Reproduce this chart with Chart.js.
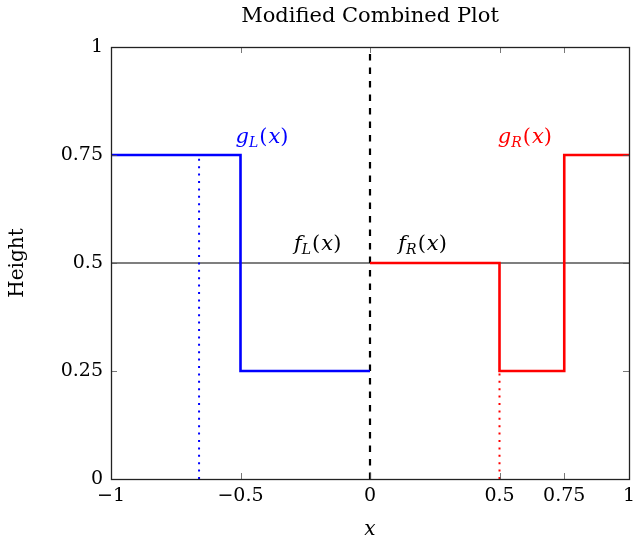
<!DOCTYPE html>
<html>
<head>
<meta charset="utf-8">
<script src="https://cdn.jsdelivr.net/npm/chart.js@4.4.1/dist/chart.umd.min.js"></script>
<style>
  html, body { margin: 0; padding: 0; background: #fff; }
</style>
</head>
<body>
<canvas id="plot" width="634" height="544"></canvas>
<script>
// ---------------- DATA ----------------
const xTicks = [-1, -0.5, 0, 0.5, 0.75, 1];
const yTicks = [0, 0.25, 0.5, 0.75, 1];

// step functions (corner points)
const gLx = [-1, -0.5, -0.5, 0];
const gLy = [0.75, 0.75, 0.25, 0.25];
const gRx = [0, 0.5, 0.5, 0.75, 0.75, 1];
const gRy = [0.5, 0.5, 0.25, 0.25, 0.75, 0.75];

// reference lines
const baseX = [-1, 1];
const baseY = [0.5, 0.5];
const splitX = [0, 0];
const splitY = [0, 1];
const dropLx = [-0.66, -0.66];
const dropLy = [0, 0.75];
const dropRx = [0.5, 0.5];
const dropRy = [0, 0.25];

// annotations: main letter, subscript, anchor in data units
const labelMain = ["g", "g", "f", "f"];
const labelSub = ["L", "R", "L", "R"];
const labelX = [-0.415, 0.6, -0.2, 0.205];
const labelY = [0.794, 0.794, 0.546, 0.546];

const FONT = "DejaVu Serif";
const labelColors = ["#0000ff", "#ff0000", "#000", "#000"];

const pts = (xs, ys) => xs.map((x, i) => ({ x: x, y: ys[i] }));
const fmt = v => String(v).replace("-", "\u2212");

function line(xs, ys, color, width, dash, order) {
  return {
    data: pts(xs, ys),
    showLine: true,
    borderColor: color,
    borderWidth: width,
    borderDash: dash,
    pointRadius: 0,
    fill: false,
    tension: 0,
    order: order
  };
}

// ---------------- PLUGINS ----------------
const frameTicks = {
  id: "frameTicks",
  afterDatasetsDraw(chart) {
    const { ctx, chartArea: a, scales } = chart;
    ctx.save();
    ctx.strokeStyle = "#555";
    ctx.lineWidth = 0.8;
    const len = 6;
    xTicks.forEach(v => {
      const px = Math.round(scales.x.getPixelForValue(v)) + 0.5;
      ctx.beginPath();
      ctx.moveTo(px, a.bottom); ctx.lineTo(px, a.bottom - len);
      ctx.moveTo(px, a.top); ctx.lineTo(px, a.top + len);
      ctx.stroke();
    });
    yTicks.forEach(v => {
      const py = Math.round(scales.y.getPixelForValue(v)) + 0.5;
      ctx.beginPath();
      ctx.moveTo(a.left, py); ctx.lineTo(a.left + len, py);
      ctx.moveTo(a.right, py); ctx.lineTo(a.right - len, py);
      ctx.stroke();
    });
    ctx.strokeStyle = "#222";
    ctx.lineWidth = 1.3;
    ctx.strokeRect(Math.round(a.left) + 0.5, Math.round(a.top) + 0.5,
      Math.round(a.right - a.left), Math.round(a.bottom - a.top));
    ctx.restore();
  }
};

const mathLabels = {
  id: "mathLabels",
  afterDraw(chart) {
    const { ctx, scales } = chart;
    ctx.save();
    ctx.textBaseline = "alphabetic";
    labelMain.forEach((m, i) => {
      const it = "italic 21px '" + FONT + "'";
      const sub = "italic 14px '" + FONT + "'";
      const up = "21px '" + FONT + "'";
      const parts = [
        [m, it, 0, 0], [labelSub[i], sub, 4, 1], ["(", up, 0, 1], ["x", it, 0, 0], [")", up, 0, 1]
      ];
      let total = 0;
      parts.forEach(p => { ctx.font = p[1]; total += ctx.measureText(p[0]).width + p[3]; });
      let x = scales.x.getPixelForValue(labelX[i]) - total / 2;
      const base = scales.y.getPixelForValue(labelY[i]) + 7;
      ctx.fillStyle = labelColors[i];
      parts.forEach(p => {
        ctx.font = p[1];
        ctx.fillText(p[0], x, base + p[2]);
        x += ctx.measureText(p[0]).width + p[3];
      });
    });
    ctx.restore();
  }
};

// ---------------- CHART ----------------
new Chart(document.getElementById("plot").getContext("2d"), {
  type: "scatter",
  data: {
    datasets: [
      line(baseX, baseY, "#000", 1.2, [], 5),
      line(gLx, gLy, "#0000ff", 2.6, [], 2),
      line(gRx, gRy, "#ff0000", 2.6, [], 1),
      line(splitX, splitY, "#000", 2.2, [6.5, 7], 3),
      line(dropLx, dropLy, "#0000ff", 2, [2, 5.4], 4),
      line(dropRx, dropRy, "#ff0000", 2, [2, 5.4], 4)
    ]
  },
  options: {
    responsive: false,
    animation: false,
    devicePixelRatio: 1,
    layout: { padding: 0 },
    plugins: {
      legend: { display: false },
      tooltip: { enabled: false },
      title: {
        display: true,
        fullSize: false,
        text: "Modified Combined Plot",
        color: "#000",
        font: { family: FONT, size: 21, weight: "normal" },
        padding: { top: 4.4, bottom: 17.4 }
      }
    },
    scales: {
      x: {
        type: "linear",
        min: -1,
        max: 1,
        afterBuildTicks: s => { s.ticks = xTicks.map(v => ({ value: v })); },
        afterFit: s => { s.height = 65; s.paddingRight = 5; s.paddingLeft = 0; },
        grid: { display: false, drawTicks: false },
        border: { display: false },
        ticks: {
          autoSkip: false, maxRotation: 0, padding: 6, color: "#000",
          font: { family: FONT, size: 19 },
          callback: v => fmt(v)
        },
        title: {
          display: true, text: "x", color: "#000",
          font: { family: FONT, size: 20, style: "italic" },
          padding: { top: 0, bottom: 2 }
        }
      },
      y: {
        type: "linear",
        min: 0,
        max: 1,
        afterBuildTicks: s => { s.ticks = yTicks.map(v => ({ value: v })); },
        afterFit: s => { s.width = 111; },
        grid: { display: false, drawTicks: false },
        border: { display: false },
        ticks: {
          autoSkip: false, padding: 8, color: "#000",
          font: { family: FONT, size: 19 },
          callback: v => fmt(v)
        },
        title: {
          display: true, text: "Height", color: "#000",
          font: { family: FONT, size: 20 },
          padding: { top: 6, bottom: 0 }
        }
      }
    }
  },
  plugins: [frameTicks, mathLabels]
});
</script>
</body>
</html>
